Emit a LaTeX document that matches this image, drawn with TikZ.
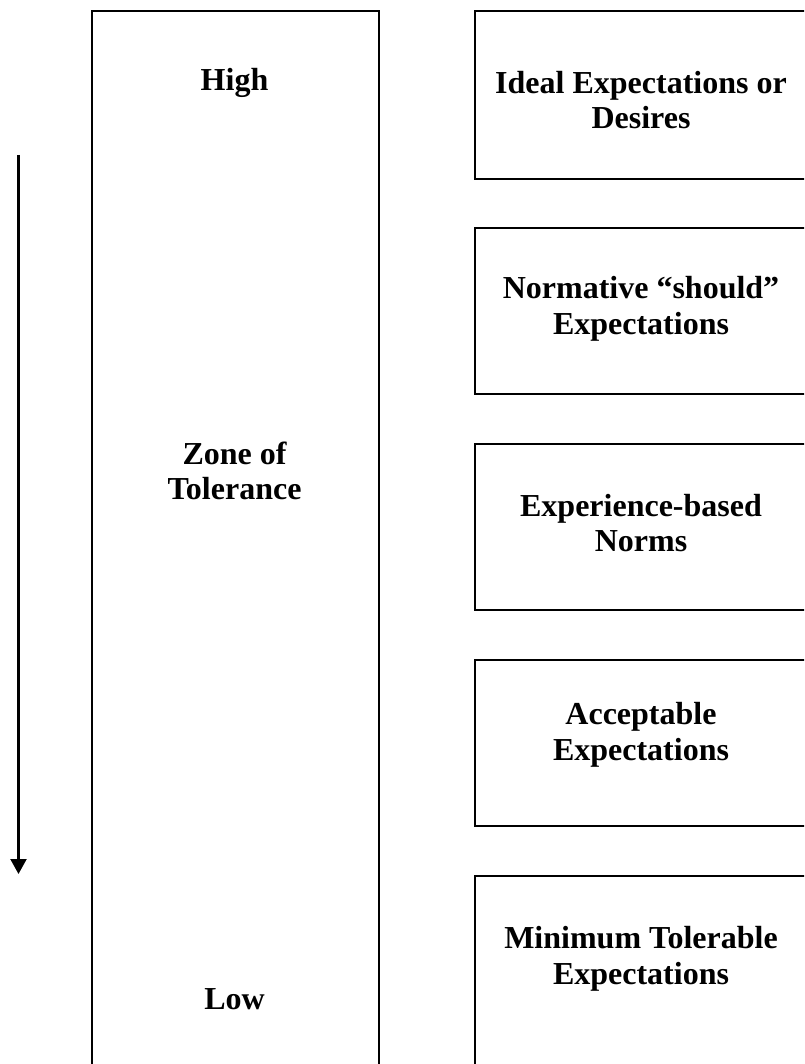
\documentclass[tikz,border=0pt]{standalone}
\usepackage{fontspec}
\setmainfont{Liberation Serif}
\usetikzlibrary{arrows.meta}
\tikzset{
  frame/.style={draw, line width=2.2pt, rectangle, inner sep=0pt},
  lbl/.style={align=center, font=\fontsize{32}{35.5}\selectfont\bfseries, inner sep=0pt},
  scalearrow/.style={line width=2.2pt, -{Triangle[length=15pt,width=16pt]}}
}
\begin{document}
\begin{tikzpicture}[x=1pt,y=-1pt]
  \useasboundingbox (0,0) rectangle (804,1064);
  \clip (0,0) rectangle (804,1064);

  % direction of the scale, from high to low
  \coordinate (top) at (18.5,155);
  \coordinate (bottom) at (18.5,874);
  \draw[scalearrow] (top) -- (bottom);

  % tall column: the zone of tolerance
  \node[frame, minimum width=287pt, minimum height=1090pt, anchor=north west] (zone) at (91,10) {};
  \node[lbl] (high) at (234.5,83) {High};
  \node[lbl] (tol) at (234.5,471) {Zone of\\Tolerance};
  \node[lbl] (low) at (234.5,999) {Low};

  % expectation levels
  \node[frame, minimum width=340pt, minimum height=168pt, anchor=north west] (b1) at (474,10) {};
  \node[frame, minimum width=340pt, minimum height=166pt, anchor=north west] (b2) at (474,227) {};
  \node[frame, minimum width=340pt, minimum height=166pt, anchor=north west] (b3) at (474,443) {};
  \node[frame, minimum width=340pt, minimum height=166pt, anchor=north west] (b4) at (474,659) {};
  \node[frame, minimum width=340pt, minimum height=220pt, anchor=north west] (b5) at (474,875) {};

  \node[lbl] (t1) at (641,100) {Ideal Expectations or\\Desires};
  \node[lbl] (t2) at (641,309) {Normative “should”\\Expectations};
  \node[lbl] (t3) at (641,523) {Experience-based\\Norms};
  \node[lbl] (t4) at (641,735) {Acceptable\\Expectations};
  \node[lbl] (t5) at (641,959) {Minimum Tolerable\\Expectations};
\end{tikzpicture}
\end{document}
